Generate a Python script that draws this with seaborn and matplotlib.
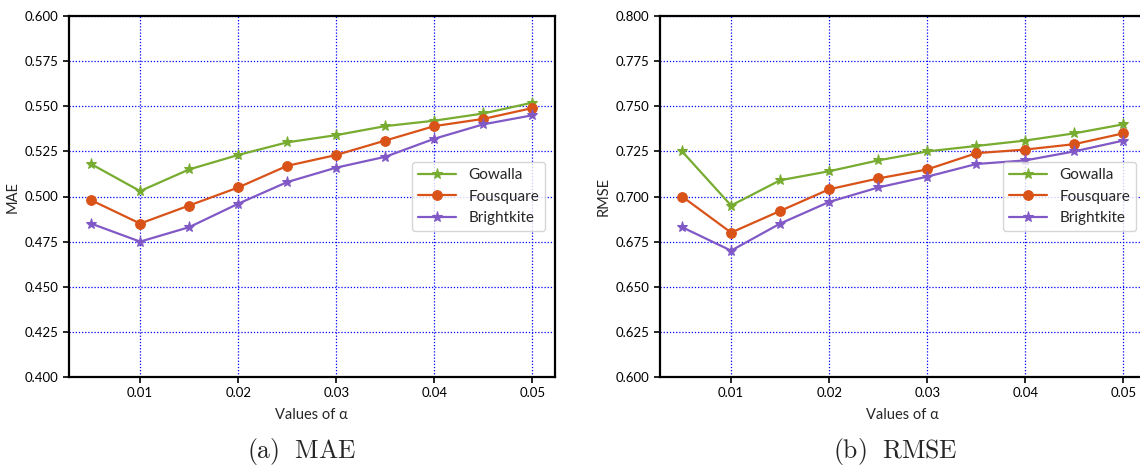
import numpy as np
import pandas as pd
import matplotlib
matplotlib.use("Agg")
import matplotlib.pyplot as plt
import seaborn as sns

# values of alpha
alpha = [0.005, 0.01, 0.015, 0.02, 0.025, 0.03, 0.035, 0.04, 0.045, 0.05]

mae_gowalla = [0.518, 0.503, 0.515, 0.523, 0.530, 0.534, 0.539, 0.542, 0.546, 0.552]
mae_fousquare = [0.498, 0.485, 0.495, 0.505, 0.517, 0.523, 0.531, 0.539, 0.543, 0.549]
mae_brightkite = [0.485, 0.475, 0.483, 0.496, 0.508, 0.516, 0.522, 0.532, 0.540, 0.545]

rmse_gowalla = [0.725, 0.695, 0.709, 0.714, 0.720, 0.725, 0.728, 0.731, 0.735, 0.740]
rmse_fousquare = [0.700, 0.680, 0.692, 0.704, 0.710, 0.715, 0.724, 0.726, 0.729, 0.735]
rmse_brightkite = [0.683, 0.670, 0.685, 0.697, 0.705, 0.711, 0.718, 0.720, 0.725, 0.731]

series_names = ["Gowalla", "Fousquare", "Brightkite"]
colors = {"Gowalla": "#77AC30", "Fousquare": "#D95319", "Brightkite": "#8159C6"}
markers = {"Gowalla": "*", "Fousquare": "o", "Brightkite": "*"}
msizes = {"Gowalla": 8, "Fousquare": 7, "Brightkite": 8}

sns.set_style("white")
plt.rcParams['font.family'] = ['Lato', 'DejaVu Sans']
plt.rcParams['mathtext.fontset'] = 'cm'

fig = plt.figure(figsize=(11.4, 4.65), dpi=100)
ax1 = fig.add_axes([69 / 1140, 1 - 377 / 465, 485.5 / 1140, 361 / 465])
ax2 = fig.add_axes([660 / 1140, 1 - 377 / 465, 485.5 / 1140, 361 / 465])

panels = [
    (ax1, [mae_gowalla, mae_fousquare, mae_brightkite], "MAE", (0.4, 0.6), "(a)\\ \\ MAE", 302),
    (ax2, [rmse_gowalla, rmse_fousquare, rmse_brightkite], "RMSE", (0.6, 0.8), "(b)\\ \\ RMSE", 895),
]

for ax, vals, ylab, ylim, cap, cap_x in panels:
    for name, v in zip(series_names, vals):
        df = pd.DataFrame({"alpha": alpha, "val": v})
        sns.lineplot(data=df, x="alpha", y="val", ax=ax, color=colors[name],
                     marker=markers[name], markersize=msizes[name],
                     markeredgecolor=colors[name], linewidth=1.6, label=name)
    ax.set_ylim(*ylim)
    ax.set_yticks(np.arange(ylim[0], ylim[1] + 0.001, 0.025))
    ax.yaxis.set_major_formatter(matplotlib.ticker.FormatStrFormatter('%.3f'))
    ax.set_xticks([0.01, 0.02, 0.03, 0.04, 0.05])
    ax.set_xticklabels(["0.01", "0.02", "0.03", "0.04", "0.05"])
    ax.grid(True, color="blue", linestyle=(0, (1, 1.5)), linewidth=0.9)
    ax.tick_params(axis="both", direction="out", length=4, width=1.2,
                   labelsize=9.5, bottom=True, left=True, colors="black")
    for s in ax.spines.values():
        s.set_color("black")
        s.set_linewidth(1.6)
    ax.set_xlabel("Values of α", fontsize=10.5, labelpad=6)
    ax.set_ylabel(ylab, fontsize=10.5)
    ax.legend(loc="center right", fontsize=11, handlelength=2.5,
              borderaxespad=0.6)
    fig.text(cap_x / 1140, 1 - 451 / 465, "$\\mathrm{" + cap + "}$",
             ha="center", va="center", fontsize=18.5)

fig.savefig("out.png", dpi=100)
